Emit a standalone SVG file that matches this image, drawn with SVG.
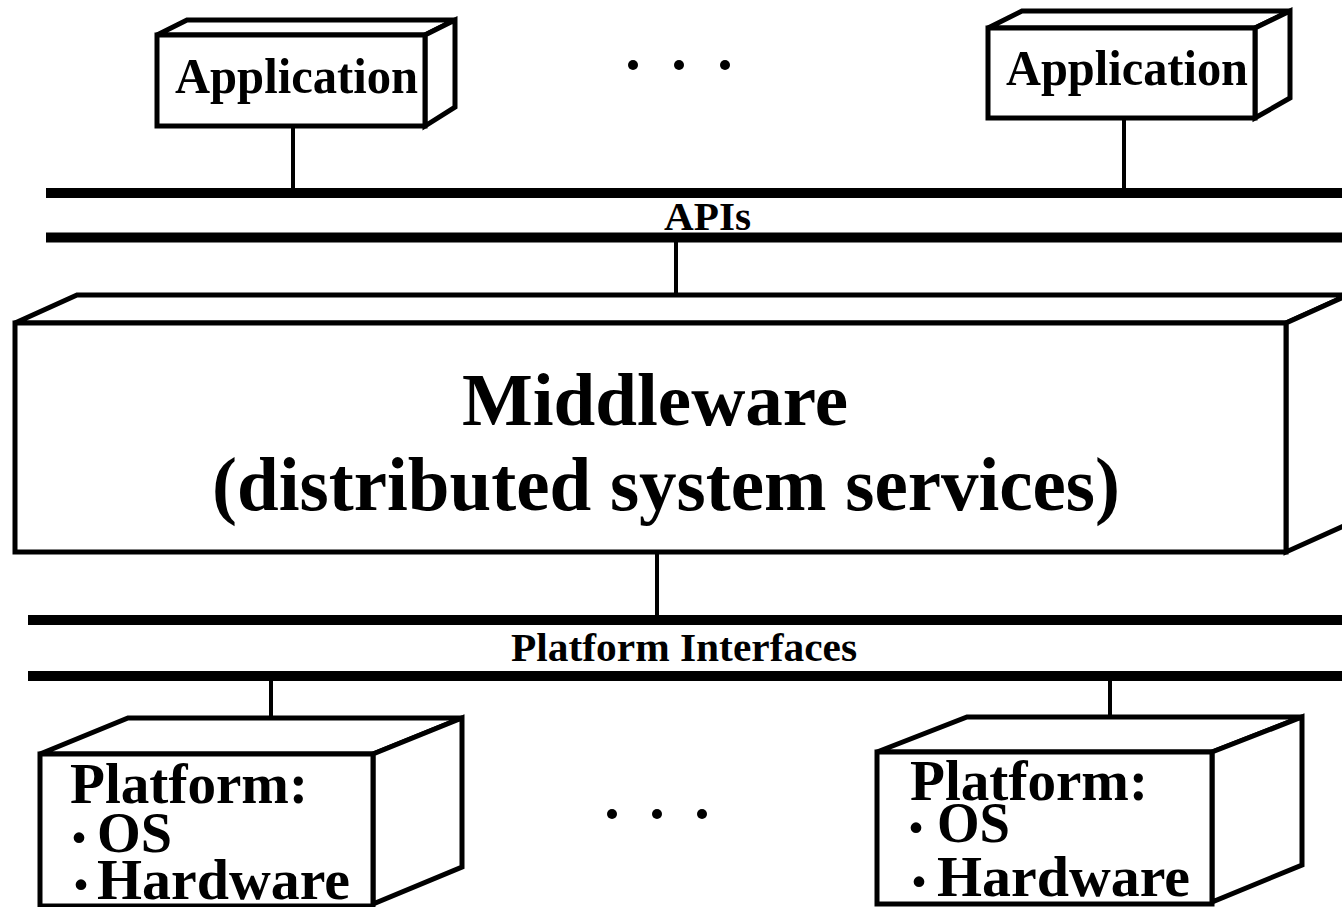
<svg xmlns="http://www.w3.org/2000/svg" width="1342" height="907" viewBox="0 0 1342 907">
<style>
.box{fill:#fff;stroke:#000;stroke-width:5;stroke-linejoin:miter}
.bus{stroke:#000;stroke-width:10;fill:none}
.conn{stroke:#000;stroke-width:4;fill:none}
.t{font-family:"Liberation Serif","Times New Roman",serif;font-weight:bold;fill:#000}
.dot{fill:#000}
.bul{font-size:66px}
</style>
<rect width="1342" height="907" fill="#fff"/>
<g id="connectors">
<line class="conn" x1="293" y1="122" x2="293" y2="190"/>
<line class="conn" x1="1124" y1="116" x2="1124" y2="190"/>
<line class="conn" x1="676" y1="238" x2="676" y2="297"/>
<line class="conn" x1="657" y1="550" x2="657" y2="620"/>
<line class="conn" x1="271" y1="676" x2="271" y2="720"/>
<line class="conn" x1="1110" y1="676" x2="1110" y2="719"/>
</g>
<g id="app-left">
<polygon class="box" points="157,35 187,20 455,20 425,35"/>
<polygon class="box" points="425,35 455,20 455,107 425,126"/>
<rect class="box" x="157" y="35" width="268" height="91"/>
<text class="t" x="175" y="93" font-size="51" textLength="243" lengthAdjust="spacingAndGlyphs">Application</text>
</g>
<g id="app-right">
<polygon class="box" points="988,28 1022,11 1290,11 1255,28"/>
<polygon class="box" points="1255,28 1290,11 1290,98 1255,118"/>
<rect class="box" x="988" y="28" width="267" height="90"/>
<text class="t" x="1006" y="85" font-size="51" textLength="242" lengthAdjust="spacingAndGlyphs">Application</text>
</g>
<g id="dots-top">
<circle class="dot" cx="633" cy="65" r="5"/>
<circle class="dot" cx="679" cy="65" r="5"/>
<circle class="dot" cx="725" cy="65" r="5"/>
</g>
<g id="bus-apis">
<line class="bus" x1="46" y1="193" x2="1342" y2="193"/>
<line class="bus" x1="46" y1="237.5" x2="1342" y2="237.5"/>
<text class="t" x="664" y="230" font-size="40" textLength="87" lengthAdjust="spacingAndGlyphs">APIs</text>
</g>
<g id="middleware">
<polygon class="box" points="15,323 77,295 1348,295 1286,323"/>
<polygon class="box" points="1286,323 1348,295 1348,524 1286,552"/>
<rect class="box" x="15" y="323" width="1271" height="229"/>
<text class="t" x="462" y="425" font-size="75" textLength="386" lengthAdjust="spacingAndGlyphs">Middleware</text>
<text class="t" x="212" y="510" font-size="76" textLength="908" lengthAdjust="spacingAndGlyphs">(distributed system services)</text>
</g>
<g id="bus-platform">
<line class="bus" x1="28" y1="620" x2="1342" y2="620"/>
<line class="bus" x1="28" y1="676" x2="1342" y2="676"/>
<text class="t" x="511" y="661" font-size="41" textLength="346" lengthAdjust="spacingAndGlyphs">Platform Interfaces</text>
</g>
<g id="platform-left">
<polygon class="box" points="40,754 128,718 462,718 373,754"/>
<polygon class="box" points="373,754 462,718 462,867 373,904"/>
<rect class="box" x="40" y="754" width="333" height="152"/>
<text class="t" x="70" y="803" font-size="57" textLength="238" lengthAdjust="spacingAndGlyphs">Platform:</text>
<text class="t" font-size="57"><tspan class="bul" x="68" y="859">·</tspan><tspan x="97" y="852" textLength="75" lengthAdjust="spacingAndGlyphs">OS</tspan></text>
<text class="t" font-size="57"><tspan class="bul" x="70" y="906">·</tspan><tspan x="97" y="899" textLength="253" lengthAdjust="spacingAndGlyphs">Hardware</tspan></text>
</g>
<g id="dots-bottom">
<circle class="dot" cx="612" cy="814" r="5"/>
<circle class="dot" cx="657" cy="814" r="5"/>
<circle class="dot" cx="702" cy="814" r="5"/>
</g>
<g id="platform-right">
<polygon class="box" points="877,752 967,717 1302,717 1212,752"/>
<polygon class="box" points="1212,752 1302,717 1302,865 1212,902"/>
<rect class="box" x="877" y="752" width="335" height="152"/>
<text class="t" x="910" y="800" font-size="57" textLength="238" lengthAdjust="spacingAndGlyphs">Platform:</text>
<text class="t" font-size="57"><tspan class="bul" x="905" y="849">·</tspan><tspan x="937" y="842" textLength="73" lengthAdjust="spacingAndGlyphs">OS</tspan></text>
<text class="t" font-size="57"><tspan class="bul" x="908" y="903">·</tspan><tspan x="937" y="896" textLength="253" lengthAdjust="spacingAndGlyphs">Hardware</tspan></text>
</g>
</svg>
